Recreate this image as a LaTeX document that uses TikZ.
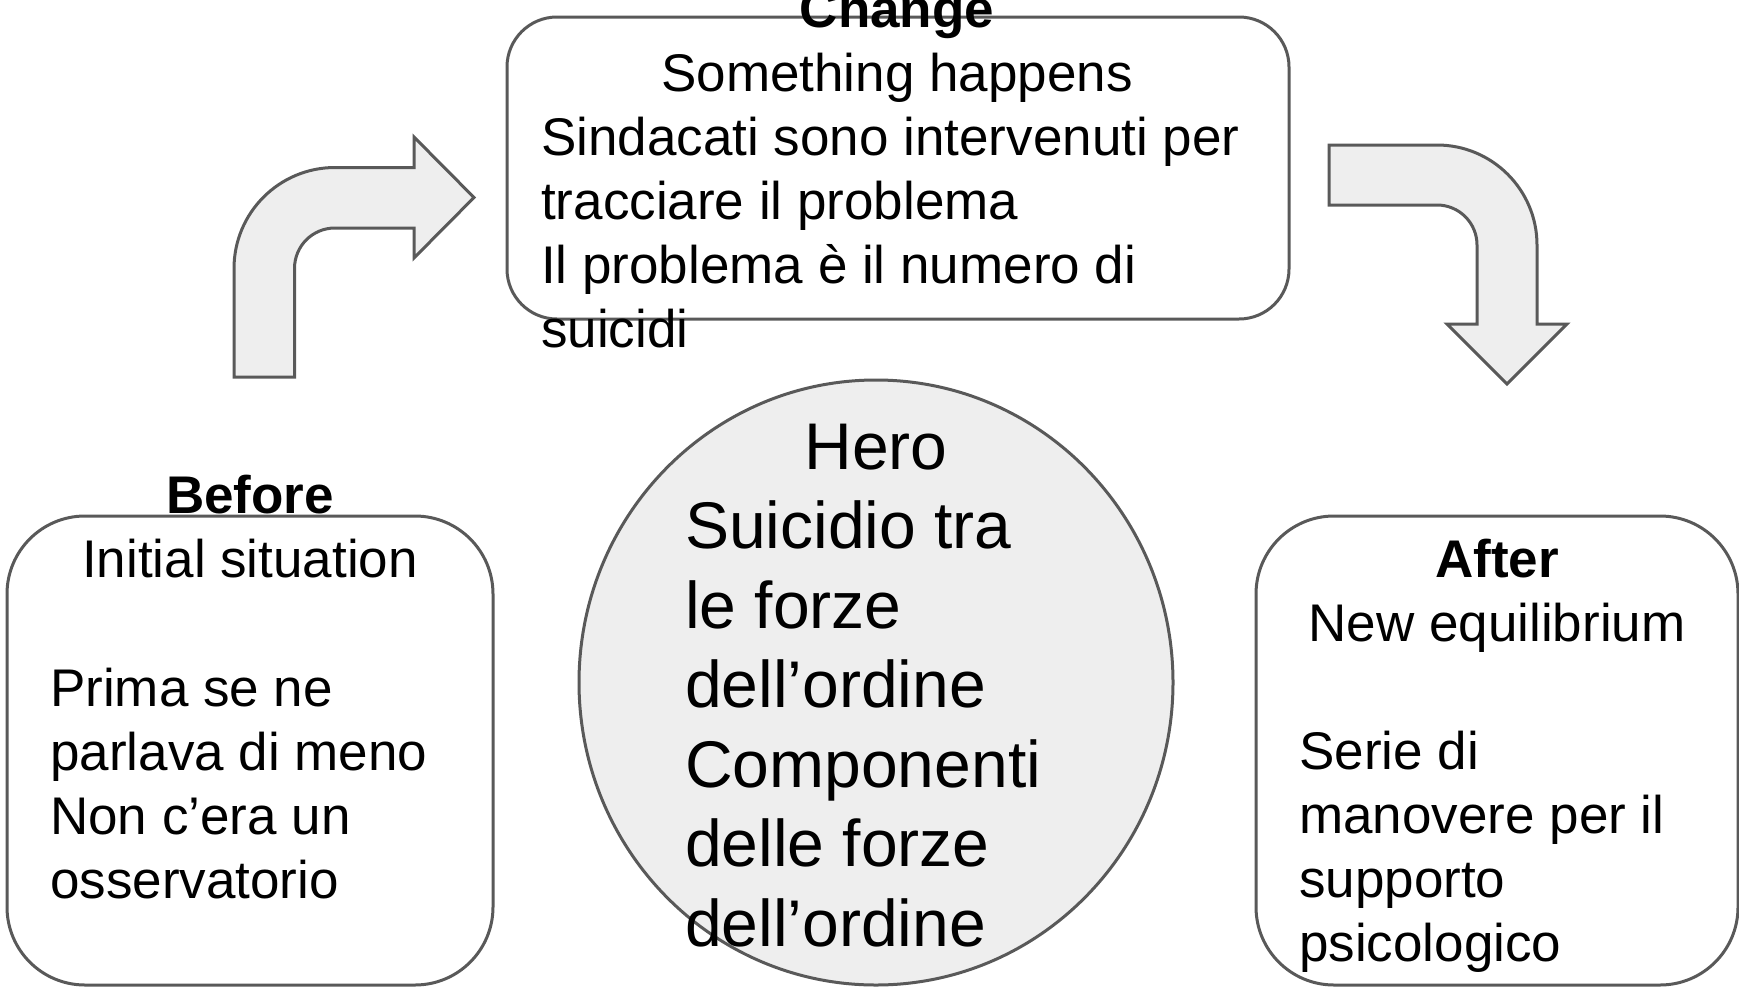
\documentclass[tikz,border=0pt]{standalone}
\usepackage{fontspec}
\setmainfont{Liberation Sans}
\usetikzlibrary{shapes.geometric}
\definecolor{edge}{HTML}{595959}
\definecolor{shade}{HTML}{EEEEEE}
\tikzset{
  box/.style={draw=edge, line width=3pt, fill=white},
  arrowshape/.style={draw=edge, line width=3pt, fill=shade, line join=miter},
  txt/.style={inner sep=0pt, font=\fontsize{53}{64}\selectfont, text=black},
  bigtxt/.style={inner sep=0pt, font=\fontsize{66}{79.5}\selectfont, text=black},
}
\begin{document}
\begin{tikzpicture}[x=1pt,y=-1pt]
\useasboundingbox (0,0) rectangle (1739,988);
% boxes
\node[box, rounded corners=50pt, minimum width=782pt, minimum height=302pt] (changebox) at (898,168) {};
\node[box, rounded corners=78pt, minimum width=486pt, minimum height=469pt] (beforebox) at (250,750.5) {};
\node[box, rounded corners=78pt, minimum width=482pt, minimum height=469pt] (afterbox) at (1497,750.5) {};
\node[ellipse, draw=edge, line width=3pt, fill=shade, minimum width=594pt, minimum height=605pt] (hero) at (876,682.5) {};
% bent arrow up-right
\draw[arrowshape] (234,377) -- (234,268.5)
  .. controls (234,212.7) and (279.2,167.5) .. (335,167.5)
  -- (414,167.5) -- (414,137) -- (474,197.5) -- (414,258) -- (414,228) -- (335,228)
  .. controls (312.6,228) and (294.5,245.9) .. (294.5,268.5)
  -- (294.5,377) -- cycle;
% bent arrow right-down
\draw[arrowshape] (1329,145) -- (1437,145)
  .. controls (1492.2,145) and (1537,189.8) .. (1537,245)
  -- (1537,324) -- (1567,324) -- (1507,384) -- (1447,324) -- (1477,324) -- (1477,245)
  .. controls (1477,222.9) and (1459.1,205) .. (1437,205)
  -- (1329,205) -- cycle;
% change text (multi-line nodes: base = last line)
\node[txt, anchor=base] (changetitle) at (897,27) {\bfseries Change};
\node[txt, anchor=base] (changesub) at (897,91) {Something happens};
\node[txt, anchor=base west, align=left] (changebody) at (541,347) {Sindacati sono intervenuti per\\tracciare il problema\\Il problema è il numero di\\suicidi};
% before text
\node[txt, anchor=base] (beforetitle) at (250,513) {\bfseries Before};
\node[txt, anchor=base] (beforesub) at (250,577) {Initial situation};
\node[txt, anchor=base west, align=left] (beforebody) at (50,898) {Prima se ne\\parlava di meno\\Non c’era un\\osservatorio};
% after text
\node[txt, anchor=base] (aftertitle) at (1497,577) {\bfseries After};
\node[txt, anchor=base] (aftersub) at (1497,641) {New equilibrium};
\node[txt, anchor=base west, align=left] (afterbody) at (1299,961) {Serie di\\manovere per il\\supporto\\psicologico};
% hero text
\node[bigtxt, anchor=base] (herotitle) at (876,469) {Hero};
\node[bigtxt, anchor=base west, align=left] (herobody) at (685,946) {Suicidio tra\\le forze\\dell’ordine\\Componenti\\delle forze\\dell’ordine};
\end{tikzpicture}
\end{document}
